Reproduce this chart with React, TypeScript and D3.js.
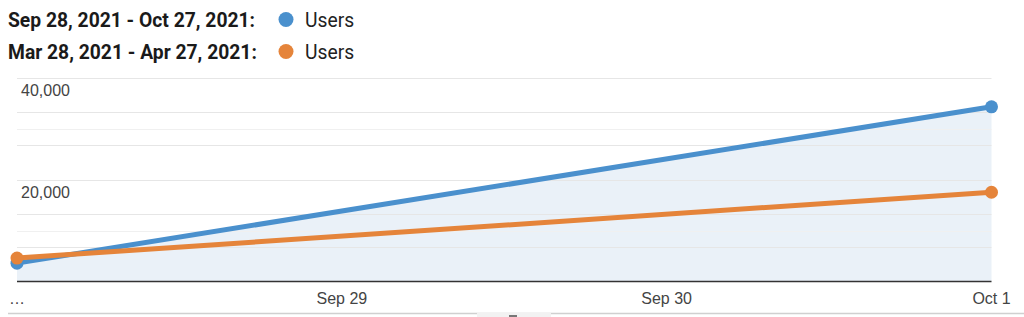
import React from "react";
import * as d3 from "d3";

const dates = ["2021-09-28", "2021-10-01"];
const currentUsers = [3600, 34250];
const previousUsers = [4600, 17500];
const tickDates = ["2021-09-28", "2021-09-29", "2021-09-30", "2021-10-01"];
const tickLabels = ["…", "Sep 29", "Sep 30", "Oct 1"];
const gridValues = [40000, 33333, 30000, 26667, 20000, 13333, 10000, 6667];
const minorGrid = [30000, 10000];
const yLabelValues = [40000, 20000];
const legendItems = [
  { range: "Sep 28, 2021 - Oct 27, 2021:", metric: "Users", color: "#4a90cd" },
  { range: "Mar 28, 2021 - Apr 27, 2021:", metric: "Users", color: "#e5843a" },
];

const W = 1024;
const H = 317;
const x0 = 17;
const x1 = 991.5;
const yBase = 281.5;
const yTop = 77.5;

export default function App() {
  const parse = d3.timeParse("%Y-%m-%d");
  const x = d3
    .scaleTime()
    .domain([parse(dates[0])!, parse(dates[dates.length - 1])!])
    .range([x0, x1]);
  const y = d3.scaleLinear().domain([0, 40000]).range([yBase, yTop]);

  const cur = dates.map((d, i) => ({ x: x(parse(d)!), y: y(currentUsers[i]) }));
  const prev = dates.map((d, i) => ({ x: x(parse(d)!), y: y(previousUsers[i]) }));

  const line = d3
    .line<{ x: number; y: number }>()
    .x((d) => d.x)
    .y((d) => d.y);
  const area = d3
    .area<{ x: number; y: number }>()
    .x((d) => d.x)
    .y0(yBase)
    .y1((d) => d.y);

  const fmt = d3.format(",");

  return (
    <svg
      width={W}
      height={H}
      style={{ position: "absolute", left: 0, top: 0, background: "#fff" }}
    >
      {/* legend */}
      {legendItems.map((it, i) => {
        const cy = 19.5 + i * 32;
        return (
          <g key={i}>
            <text
              x={8}
              y={cy + 7}
              fontFamily="Roboto, Arial, sans-serif"
              fontWeight="bold"
              fontSize={19.3}
              fill="#1a1a1a"
            >
              {it.range}
            </text>
            <circle cx={286} cy={cy} r={7.5} fill={it.color} />
            <text
              x={305}
              y={cy + 7}
              fontFamily="Roboto, Arial, sans-serif"
              fontSize={19.3}
              fill="#222"
            >
              {it.metric}
            </text>
          </g>
        );
      })}

      {/* area under current series */}
      <path d={area(cur) || ""} fill="#eaf1f8" />

      {/* gridlines */}
      {gridValues.map((v) => (
        <line
          key={v}
          x1={x0}
          x2={x1}
          y1={Math.round(y(v)) + 0.5}
          y2={Math.round(y(v)) + 0.5}
          stroke={minorGrid.includes(v) ? "#f0f0f0" : "#e6e6e6"}
          strokeWidth={1}
        />
      ))}

      {/* y labels */}
      {yLabelValues.map((v) => (
        <text
          key={v}
          x={21}
          y={y(v) + 18.5}
          fontFamily="'Liberation Sans', Arial, sans-serif"
          fontSize={16}
          fill="#444"
        >
          {fmt(v)}
        </text>
      ))}

      {/* baseline axis */}
      <line x1={x0} x2={x1} y1={yBase} y2={yBase} stroke="#333" strokeWidth={1.5} />

      {/* x labels */}
      {tickDates.map((d, i) => (
        <text
          key={d}
          x={x(parse(d)!)}
          y={304}
          textAnchor="middle"
          fontFamily="'Liberation Sans', Arial, sans-serif"
          fontSize={16}
          fill="#444"
        >
          {tickLabels[i]}
        </text>
      ))}

      {/* series lines */}
      <path d={line(cur) || ""} fill="none" stroke={legendItems[0].color} strokeWidth={5} />
      <path d={line(prev) || ""} fill="none" stroke={legendItems[1].color} strokeWidth={5} />
      {cur.map((p, i) => (
        <circle key={"c" + i} cx={p.x} cy={p.y} r={6.5} fill={legendItems[0].color} />
      ))}
      {prev.map((p, i) => (
        <circle key={"p" + i} cx={p.x} cy={p.y} r={6.5} fill={legendItems[1].color} />
      ))}

      {/* bottom scrollbar-like strip */}
      <line x1={8} x2={W} y1={313.5} y2={313.5} stroke="#d0d0d0" strokeWidth={1.5} />
      <rect x={477} y={313} width={74} height={4} fill="#f2f2f2" />
      <rect x={509} y={315} width={8} height={2} fill="#777" />
    </svg>
  );
}
